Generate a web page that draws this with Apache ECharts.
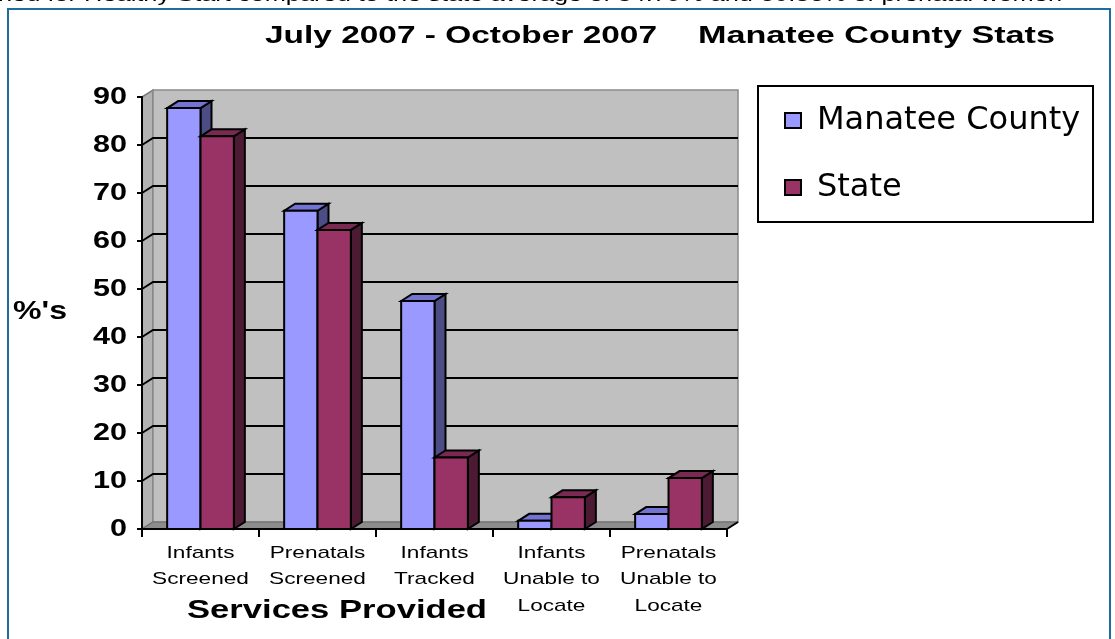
<!DOCTYPE html>
<html>
<head>
<meta charset="utf-8">
<script src="https://cdn.jsdelivr.net/npm/echarts@6/dist/echarts.min.js"></script>
<style>
html,body{margin:0;padding:0;background:#fff;}
#chart{width:1115px;height:639px;}
</style>
</head>
<body>
<div id="chart"></div>
<script>
// ---- data ----
const categories = ['Infants\nScreened', 'Prenatals\nScreened', 'Infants\nTracked', 'Infants\nUnable to\nLocate', 'Prenatals\nUnable to\nLocate'];
const seriesNames = ['Manatee County', 'State'];
const manatee = [87.7, 66.3, 47.5, 1.7, 3.1];
const state = [81.8, 62.3, 14.9, 6.6, 10.6];
const yTicks = [0, 10, 20, 30, 40, 50, 60, 70, 80, 90];
const titleParts = ['July 2007 - October 2007', 'Manatee County Stats'];
const yAxisName = "%'s";
const xAxisName = 'Services Provided';
const caption = 'ned for Healthy Start compared to the state average of 84.79% and 60.86% of prenatal women';

// ---- styling ----
const DX = 11, DY = -7;
const FONT = '"Liberation Sans", Arial, sans-serif';
const palette = [
  { front: '#9999FF', top: '#7373D2', side: '#4D4D85' },
  { front: '#993366', top: '#7A2952', side: '#4D1A33' }
];
const yMax = yTicks[yTicks.length - 1];

const chart = echarts.init(document.getElementById('chart'), null, { renderer: 'canvas' });

function wallRender(params, api) {
  const bw = api.size([1, 0])[0];
  const c0 = api.coord([0, 0]);
  const cN = api.coord([categories.length - 1, 0]);
  const xL = c0[0] - bw / 2, xR = cN[0] + bw / 2;
  const y0 = c0[1];
  const yTop = api.coord([0, yMax])[1];
  const children = [
    { type: 'polygon', shape: { points: [[xL, yTop], [xL + DX, yTop + DY], [xL + DX, y0 + DY], [xL, y0]] },
      style: { fill: '#B2B2B2', stroke: '#7A7A7A', lineWidth: 1.5 } },
    { type: 'rect', shape: { x: xL + DX, y: yTop + DY, width: xR - xL, height: y0 - yTop },
      style: { fill: '#C0C0C0', stroke: '#8A8A8A', lineWidth: 1.5 } },
    { type: 'polygon', shape: { points: [[xL, y0], [xL + DX, y0 + DY], [xR + DX, y0 + DY], [xR, y0]] },
      style: { fill: '#8C8C8C', stroke: '#6A6A6A', lineWidth: 1 } }
  ];
  yTicks.forEach(v => {
    if (v <= 0 || v >= yMax) return;
    const y = api.coord([0, v])[1];
    children.push({ type: 'polyline', shape: { points: [[xL, y], [xL + DX, y + DY], [xR + DX, y + DY]] },
      style: { stroke: '#000', lineWidth: 2, fill: null } });
  });
  children.push({ type: 'line', shape: { x1: xR, y1: y0, x2: xR + DX, y2: y0 + DY }, style: { stroke: '#000', lineWidth: 2 } });
  return { type: 'group', children: children };
}

function barRender(idx) {
  return function (params, api) {
    const ci = api.value(0), v = api.value(1);
    const base = api.coord([ci, 0]);
    const top = api.coord([ci, v]);
    const bw = api.size([1, 0])[0];
    const w = bw * 0.285;
    const x0 = base[0] + (idx === 0 ? -w : 0);
    const x1 = x0 + w;
    const yB = base[1], yT = top[1];
    const c = palette[idx];
    const st = { stroke: '#000', lineWidth: 2, lineJoin: 'miter' };
    return {
      type: 'group',
      children: [
        { type: 'polygon', shape: { points: [[x1, yT], [x1 + DX, yT + DY], [x1 + DX, yB + DY], [x1, yB]] },
          style: Object.assign({ fill: c.side }, st) },
        { type: 'polygon', shape: { points: [[x0, yT], [x0 + DX, yT + DY], [x1 + DX, yT + DY], [x1, yT]] },
          style: Object.assign({ fill: c.top }, st) },
        { type: 'rect', shape: { x: x0, y: yT, width: w, height: yB - yT },
          style: Object.assign({ fill: c.front }, st) }
      ]
    };
  };
}

chart.setOption({
  animation: false,
  backgroundColor: '#ffffff',
  grid: { left: 142, right: 388, top: 97, bottom: 110, containLabel: false },
  legend: {
    data: seriesNames,
    orient: 'vertical',
    left: 784, top: 104,
    padding: 0,
    itemWidth: 16, itemHeight: 15,
    itemGap: 34,
    icon: 'rect',
    itemStyle: { borderColor: '#000', borderWidth: 2 },
    textStyle: { fontFamily: '"DejaVu Sans", sans-serif', fontSize: 32, color: '#000', lineHeight: 33, padding: [0, 0, 0, 11] },
    z: 10
  },
  xAxis: {
    type: 'category',
    data: categories,
    boundaryGap: true,
    axisLine: { show: true, lineStyle: { color: '#000', width: 2 } },
    axisTick: { show: true, length: 8, lineStyle: { color: '#000', width: 2 } },
    axisLabel: { show: false },
    splitLine: { show: false },
    z: 10
  },
  yAxis: {
    type: 'value',
    min: 0, max: yMax, interval: 10,
    axisLine: { show: true, lineStyle: { color: '#000', width: 2 } },
    axisTick: { show: true, length: 5, lineStyle: { color: '#000', width: 2 } },
    axisLabel: { show: false },
    splitLine: { show: false },
    z: 10
  },
  series: [
    { type: 'custom', name: '_wall', silent: true, clip: false, z: 1,
      renderItem: wallRender, data: [[0, 0]], encode: { x: 0, y: 1 } },
    { type: 'custom', name: seriesNames[0], clip: false, z: 2,
      itemStyle: { color: palette[0].front },
      renderItem: barRender(0), data: manatee.map((v, i) => [i, v]), encode: { x: 0, y: 1 } },
    { type: 'custom', name: seriesNames[1], clip: false, z: 3,
      itemStyle: { color: palette[1].front },
      renderItem: barRender(1), data: state.map((v, i) => [i, v]), encode: { x: 0, y: 1 } }
  ]
});

// ---- stretched text (the reference renders its text horizontally widened) ----
const mctx = document.createElement('canvas').getContext('2d');
function measure(text, size, weight) {
  mctx.font = (weight || 'normal') + ' ' + size + 'px ' + FONT;
  return mctx.measureText(text).width;
}
function sText(text, x, y, size, weight, scaleX, align) {
  return {
    type: 'text', x: x, y: y, scaleX: scaleX, scaleY: 1, z: 20,
    style: { text: text, fontSize: size, fontWeight: weight || 'normal', fontFamily: FONT,
      fill: '#000', align: align || 'left', verticalAlign: 'middle' }
  };
}

const els = [];
// outer frame
els.push({ type: 'rect', shape: { x: 8, y: 9, width: 1102, height: 660 }, z: 0,
  style: { fill: null, stroke: '#1F6C9E', lineWidth: 2 } });
// legend box
els.push({ type: 'rect', shape: { x: 758, y: 86, width: 335, height: 136 }, z: 0,
  style: { fill: '#fff', stroke: '#000', lineWidth: 2 } });
// clipped caption at top
els.push(sText(caption, -2, -4, 19, 'normal', 1064 / measure(caption, 19), 'left'));
// title
els.push(sText(titleParts[0], 265, 36, 24, 'bold', 392 / measure(titleParts[0], 24, 'bold'), 'left'));
els.push(sText(titleParts[1], 698, 36, 24, 'bold', 357 / measure(titleParts[1], 24, 'bold'), 'left'));
// axis names
els.push(sText(yAxisName, 13, 312, 25, 'bold', 54 / measure(yAxisName, 25, 'bold'), 'left'));
els.push(sText(xAxisName, 187, 611, 25, 'bold', 300 / measure(xAxisName, 25, 'bold'), 'left'));
// y tick labels
const yScale = 34 / measure('90', 24, 'bold');
yTicks.forEach(v => {
  const p = chart.convertToPixel({ xAxisIndex: 0, yAxisIndex: 0 }, [0, v]);
  els.push(sText(String(v), 127, p[1], 24, 'bold', yScale, 'right'));
});
// category labels
const lineYs = [553, 579, 606];
categories.forEach((c, i) => {
  const p = chart.convertToPixel({ xAxisIndex: 0, yAxisIndex: 0 }, [i, 0]);
  c.split('\n').forEach((ln, k) => {
    els.push(sText(ln, p[0], lineYs[k], 17, 'normal', 1.33, 'center'));
  });
});
chart.setOption({ graphic: { elements: els } });
</script>
</body>
</html>
